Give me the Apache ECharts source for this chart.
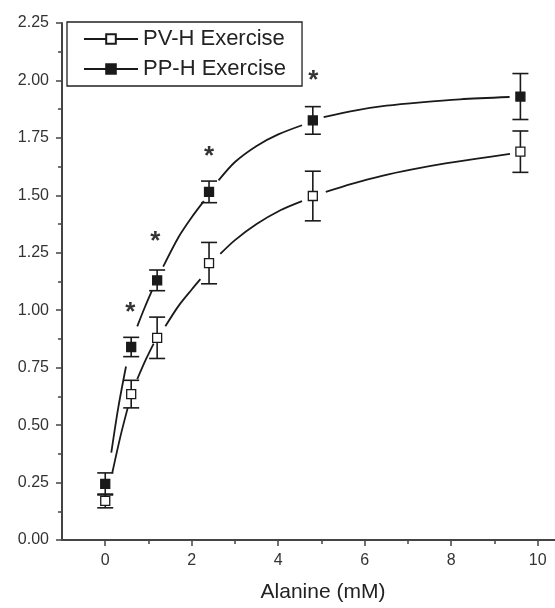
<!DOCTYPE html>
<html>
<head>
<meta charset="utf-8">
<script src="https://cdn.jsdelivr.net/npm/echarts@6/dist/echarts.min.js"></script>
<style>
  html, body { margin: 0; padding: 0; background: #fff; }
  #main { width: 555px; height: 608px; }
</style>
</head>
<body>
<div id="main"></div>
<script>
// measured points: [alanine mM, mean, error]
var pvPoints = [[0, 0.17, 0.03], [0.6, 0.635, 0.06], [1.2, 0.88, 0.09], [2.4, 1.205, 0.09], [4.8, 1.497, 0.108], [9.6, 1.69, 0.09]];
var ppPoints = [[0, 0.244, 0.048], [0.6, 0.84, 0.042], [1.2, 1.13, 0.045], [2.4, 1.515, 0.047], [4.8, 1.826, 0.06], [9.6, 1.93, 0.10]];

// fitted curves (null = gap next to a marker)
var pvCurve = [[0.16, 0.29], [0.35, 0.45], [0.52, 0.575], [0.6, null],
  [0.74, 0.70], [0.95, 0.79], [1.12, 0.855], [1.2, null],
  [1.39, 0.93], [1.7, 1.02], [2.0, 1.09], [2.2, 1.135], [2.4, null],
  [2.66, 1.245], [3.0, 1.305], [3.5, 1.375], [4.05, 1.435], [4.55, 1.475], [4.8, null],
  [5.1, 1.515], [5.7, 1.55], [6.4, 1.585], [7.1, 1.613], [7.9, 1.64], [8.6, 1.66], [9.36, 1.68]];
var ppCurve = [[0.14, 0.38], [0.3, 0.575], [0.48, 0.755], [0.6, null],
  [0.74, 0.93], [0.92, 1.015], [1.08, 1.085], [1.2, null],
  [1.34, 1.19], [1.7, 1.32], [2.0, 1.405], [2.28, 1.475], [2.4, null],
  [2.62, 1.565], [3.0, 1.645], [3.5, 1.715], [4.0, 1.765], [4.55, 1.805], [4.8, null],
  [5.05, 1.84], [5.8, 1.87], [6.5, 1.89], [7.3, 1.905], [8.2, 1.918], [9.35, 1.928]];

// significance marks
var stars = [[0.58, 1.02], [1.16, 1.33], [2.4, 1.70], [4.81, 2.03]];

var xMajor = [0, 2, 4, 6, 8, 10];
var xMinor = [1, 3, 5, 7, 9];
var seriesNames = ['PV-H Exercise', 'PP-H Exercise'];

var ink = '#1a1a1a';
var font = 'Liberation Sans, Arial, sans-serif';

var chart = echarts.init(document.getElementById('main'), null, { renderer: 'canvas' });

function errorBars(points, name) {
  return {
    type: 'custom',
    name: name + ' err',
    z: 3,
    silent: true,
    data: points,
    renderItem: function (params, api) {
      var x = api.value(0), m = api.value(1), e = api.value(2);
      var top = api.coord([x, m + e]);
      var bot = api.coord([x, m - e]);
      var w = 8;
      var style = { stroke: ink, lineWidth: 1.6 };
      return {
        type: 'group',
        children: [
          { type: 'line', shape: { x1: top[0], y1: top[1], x2: bot[0], y2: bot[1] }, style: style },
          { type: 'line', shape: { x1: top[0] - w, y1: top[1], x2: top[0] + w, y2: top[1] }, style: style },
          { type: 'line', shape: { x1: bot[0] - w, y1: bot[1], x2: bot[0] + w, y2: bot[1] }, style: style }
        ]
      };
    }
  };
}

function curve(data, name, fill) {
  return {
    type: 'line',
    name: name,
    data: data,
    smooth: 0.3,
    connectNulls: false,
    symbol: 'rect',
    symbolSize: 9,
    showSymbol: false,
    z: 2,
    silent: true,
    lineStyle: { color: ink, width: 1.8 },
    itemStyle: { color: fill, borderColor: ink, borderWidth: 1.3 }
  };
}

function markers(points, name, fill) {
  return {
    type: 'scatter',
    name: name + ' pts',
    data: points.map(function (p) { return [p[0], p[1]]; }),
    symbol: 'rect',
    symbolSize: 9,
    z: 4,
    silent: true,
    itemStyle: { color: fill, borderColor: ink, borderWidth: 1.3, opacity: 1 }
  };
}

var option = {
  animation: false,
  backgroundColor: '#fff',
  textStyle: { fontFamily: font },
  grid: { left: 62, right: 0, top: 23, bottom: 68, containLabel: false },
  legend: {
    data: seriesNames,
    orient: 'vertical',
    left: 67,
    top: 22,
    padding: [6, 16, 6, 16],
    itemGap: 8,
    itemWidth: 54,
    itemHeight: 12,
    borderColor: '#222',
    borderWidth: 1.3,
    backgroundColor: '#fff',
    selectedMode: false,
    textStyle: { fontSize: 22, lineHeight: 22, color: '#222', fontFamily: font }
  },
  // axis title sits centred under 0..10, off the middle of the cropped axis
  graphic: [{
    type: 'text',
    x: 323,
    y: 592,
    style: {
      text: 'Alanine (mM)', fontSize: 21, fill: '#222', fontFamily: font,
      textAlign: 'center', textVerticalAlign: 'middle'
    }
  }],
  xAxis: [{
    type: 'value',
    min: -1,
    max: 10.4,
    axisLine: { onZero: false, lineStyle: { color: '#444', width: 2 } },
    axisTick: { customValues: xMajor, length: 6, lineStyle: { color: '#444', width: 1.5 } },
    axisLabel: { customValues: xMajor, margin: 13, fontSize: 16, color: '#333', fontFamily: font },
    splitLine: { show: false }
  }, {
    type: 'value',
    min: -1,
    max: 10.4,
    position: 'bottom',
    axisLine: { show: false, onZero: false },
    axisTick: { customValues: xMinor, length: 4, lineStyle: { color: '#444', width: 1.5 } },
    axisLabel: { show: false },
    splitLine: { show: false }
  }],
  yAxis: {
    type: 'value',
    min: 0,
    max: 2.25,
    interval: 0.25,
    axisLine: { show: true, onZero: false, lineStyle: { color: '#444', width: 2 } },
    axisTick: { show: true, length: 6, lineStyle: { color: '#444', width: 1.5 } },
    minorTick: { show: true, splitNumber: 2, length: 4, lineStyle: { color: '#444', width: 1.5 } },
    axisLabel: {
      margin: 13, fontSize: 16, color: '#333', fontFamily: font,
      formatter: function (v) { return v.toFixed(2); }
    },
    splitLine: { show: false }
  },
  series: [
    curve(pvCurve, seriesNames[0], '#fff'),
    curve(ppCurve, seriesNames[1], ink),
    errorBars(pvPoints, seriesNames[0]),
    errorBars(ppPoints, seriesNames[1]),
    markers(pvPoints, seriesNames[0], '#fff'),
    markers(ppPoints, seriesNames[1], ink),
    {
      type: 'scatter',
      name: 'stars',
      data: stars,
      symbolSize: 1,
      itemStyle: { color: 'rgba(0,0,0,0)' },
      silent: true,
      z: 5,
      label: {
        show: true,
        position: 'inside',
        formatter: '*',
        fontSize: 26,
        fontWeight: 'bold',
        color: '#000',
        fontFamily: font,
        offset: [0, 7]
      }
    }
  ]
};

chart.setOption(option);
</script>
</body>
</html>
